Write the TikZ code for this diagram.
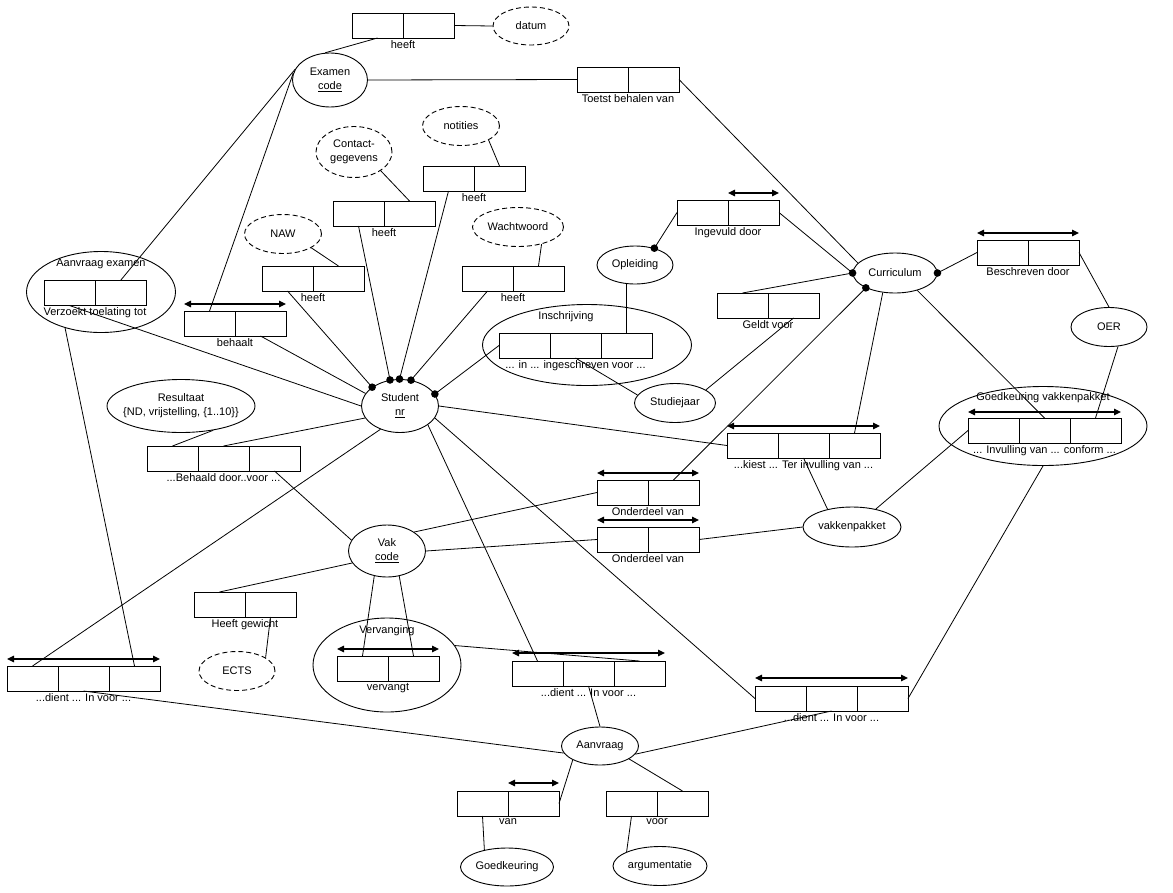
\documentclass[tikz,border=0pt]{standalone}
\usepackage{fontspec}
\setmainfont{Liberation Sans}
\usetikzlibrary{shapes.geometric, arrows.meta, positioning}

\begin{document}
\begin{tikzpicture}[
    x=1pt, y=-1pt,
    font=\fontsize{11}{14}\selectfont,
    cell/.style={rectangle, draw, line width=1pt, minimum width=51pt, minimum height=25pt, inner sep=0pt, outer sep=0pt},
    rlabel/.style={anchor=north, inner sep=2pt},
    ent/.style={ellipse, draw, line width=0.9pt, inner sep=0pt, inner xsep=-6pt, align=center},
    valent/.style={ent, dash pattern=on 5pt off 3pt},
    conn/.style={line width=0.8pt},
    uniq/.style={{Triangle[length=7pt,width=6.5pt]}-{Triangle[length=7pt,width=6.5pt]}, line width=1.2pt},
    mand/.style={fill=black}
]
\useasboundingbox (0,0) rectangle (1173,892);

\node[valent, minimum width=76pt, minimum height=38pt] (datum) at (531,26) {datum};
\node[ent, minimum width=75pt, minimum height=54pt] (exa) at (330,80) {Examen\\\underline{code}};
\node[ent, minimum width=84pt, minimum height=40pt] (curr) at (895,273) {Curriculum};
\node[ent, minimum width=76pt, minimum height=38pt] (opl) at (635,265) {Opleiding};
\node[ent, minimum width=76pt, minimum height=39pt] (oer) at (1109,327) {OER};
\node[ent, minimum width=209pt, minimum height=81pt] (insE) at (587,345) {};
\node (insT) at (566,317) {Inschrijving};
\node[ent, minimum width=81pt, minimum height=39pt] (stj) at (675,403) {Studiejaar};
\node[valent, minimum width=77pt, minimum height=39pt] (naw) at (283,234) {NAW};
\node[valent, minimum width=76pt, minimum height=51pt] (con) at (354,152) {Contact-\\gegevens};
\node[valent, minimum width=77pt, minimum height=39pt] (notit) at (461,126) {notities};
\node[valent, minimum width=91pt, minimum height=39pt] (ww) at (518,227) {Wachtwoord};
\node[ent, minimum width=149pt, minimum height=81pt] (aexE) at (101,292) {};
\node (aexT) at (101,264) {Aanvraag examen};
\node[ent, minimum width=77pt, minimum height=53pt] (stu) at (400,406) {Student\\\underline{nr}};
\node[ent, inner xsep=-12pt, minimum width=148pt, minimum height=53pt] (res) at (181,406) {Resultaat\\\{ND, vrijstelling, \{1..10\}\}};
\node[ent, minimum width=208pt, minimum height=79pt] (gvkE) at (1043,426) {};
\node (gvkT) at (1043,398) {Goedkeuring vakkenpakket};
\node[ent, minimum width=98pt, minimum height=40pt] (vkp) at (852,527) {vakkenpakket};
\node[ent, minimum width=77pt, minimum height=52pt] (vak) at (387,551) {Vak\\\underline{code}};
\node[ent, minimum width=148pt, minimum height=94pt] (vvgE) at (387,665) {};
\node (vvgT) at (387,631) {Vervanging};
\node[valent, minimum width=76pt, minimum height=39pt] (ects) at (237,671) {ECTS};
\node[ent, minimum width=77pt, minimum height=38pt] (aan) at (600,746) {Aanvraag};
\node[ent, minimum width=93pt, minimum height=38pt] (goe) at (507,867) {Goedkeuring};
\node[ent, minimum width=94pt, minimum height=39pt] (arg) at (660,866) {argumentatie};

\node[cell] (dat1) at (377.5,25.5) {};
\node[cell, right=0pt of dat1] (dat2) {};
\node[rlabel] (datL) at (dat1.south east) {heeft};

\node[cell] (toe1) at (602.5,79.5) {};
\node[cell, right=0pt of toe1] (toe2) {};
\node[rlabel] (toeL) at (toe1.south east) {Toetst behalen van};

\node[cell] (ing1) at (702.5,212.5) {};
\node[cell, right=0pt of ing1] (ing2) {};
\node[rlabel] (ingL) at (ing1.south east) {Ingevuld door};

\node[cell] (bes1) at (1002.5,252.5) {};
\node[cell, right=0pt of bes1] (bes2) {};
\node[rlabel] (besL) at (bes1.south east) {Beschreven door};

\node[cell] (gel1) at (742.5,305.5) {};
\node[cell, right=0pt of gel1] (gel2) {};
\node[rlabel] (gelL) at (gel1.south east) {Geldt voor};

\node[cell] (ins1) at (524.5,345.5) {};
\node[cell, right=0pt of ins1] (ins2) {};
\node[cell, right=0pt of ins2] (ins3) {};
\node[rlabel] (insL) at (ins2.south) {... in ... ingeschreven voor ...};

\node[cell] (hn1) at (287.5,278.5) {};
\node[cell, right=0pt of hn1] (hn2) {};
\node[rlabel] (hnL) at (hn1.south east) {heeft};

\node[cell] (hc1) at (358.5,213.5) {};
\node[cell, right=0pt of hc1] (hc2) {};
\node[rlabel] (hcL) at (hc1.south east) {heeft};

\node[cell] (hno1) at (448.5,178.5) {};
\node[cell, right=0pt of hno1] (hno2) {};
\node[rlabel] (hnoL) at (hno1.south east) {heeft};

\node[cell] (hw1) at (487.5,278.5) {};
\node[cell, right=0pt of hw1] (hw2) {};
\node[rlabel] (hwL) at (hw1.south east) {heeft};

\node[cell] (ax1) at (69.5,293) {};
\node[cell, right=0pt of ax1] (ax2) {};
\node[rlabel] (axL) at (ax1.south east) {Verzoekt toelating tot};

\node[cell] (bh1) at (209.5,323.5) {};
\node[cell, right=0pt of bh1] (bh2) {};
\node[rlabel] (bhL) at (bh1.south east) {behaalt};

\node[cell] (bd1) at (172.5,458.5) {};
\node[cell, right=0pt of bd1] (bd2) {};
\node[cell, right=0pt of bd2] (bd3) {};
\node[rlabel] (bdL) at (bd2.south) {...Behaald door..voor ...};

\node[cell] (kie1) at (752.5,445.5) {};
\node[cell, right=0pt of kie1] (kie2) {};
\node[cell, right=0pt of kie2] (kie3) {};
\node[rlabel] (kieL) at (kie2.south) {...kiest ... Ter invulling van ...};

\node[cell] (gk1) at (993.5,430.5) {};
\node[cell, right=0pt of gk1] (gk2) {};
\node[cell, right=0pt of gk2] (gk3) {};
\node[rlabel] (gkL) at (gk2.south) {... Invulling van ... conform ...};

\node[cell] (on11) at (622.5,492.5) {};
\node[cell, right=0pt of on11] (on12) {};
\node[rlabel] (on1L) at (on11.south east) {Onderdeel van};

\node[cell] (on21) at (622.5,539.5) {};
\node[cell, right=0pt of on21] (on22) {};
\node[rlabel] (on2L) at (on21.south east) {Onderdeel van};

\node[cell] (gw1) at (219.5,604.5) {};
\node[cell, right=0pt of gw1] (gw2) {};
\node[rlabel] (gwL) at (gw1.south east) {Heeft gewicht};

\node[cell] (vv1) at (362.5,668.5) {};
\node[cell, right=0pt of vv1] (vv2) {};
\node[rlabel] (vvL) at (vv1.south east) {vervangt};

\node[cell] (dL1) at (32.5,678.5) {};
\node[cell, right=0pt of dL1] (dL2) {};
\node[cell, right=0pt of dL2] (dL3) {};
\node[rlabel] (dLL) at (dL2.south) {...dient ... In voor ...};

\node[cell] (dM1) at (537.5,673.5) {};
\node[cell, right=0pt of dM1] (dM2) {};
\node[cell, right=0pt of dM2] (dM3) {};
\node[rlabel] (dML) at (dM2.south) {...dient ... In voor ...};

\node[cell] (dR1) at (780.5,698.5) {};
\node[cell, right=0pt of dR1] (dR2) {};
\node[cell, right=0pt of dR2] (dR3) {};
\node[rlabel] (dRL) at (dR2.south) {...dient ... In voor ...};

\node[cell] (van1) at (482.5,803.5) {};
\node[cell, right=0pt of van1] (van2) {};
\node[rlabel] (vanL) at (van1.south east) {van};

\node[cell] (voo1) at (631.5,803.5) {};
\node[cell, right=0pt of voo1] (voo2) {};
\node[rlabel] (vooL) at (voo1.south east) {voor};

\draw[uniq] ([yshift=7pt]ing2.north west) -- ([yshift=7pt]ing2.north east);
\draw[uniq] ([yshift=7pt]bes1.north west) -- ([yshift=7pt]bes2.north east);
\draw[uniq] ([yshift=7pt]bh1.north west) -- ([yshift=7pt]bh2.north east);
\draw[uniq] ([yshift=7pt]kie1.north west) -- ([yshift=7pt]kie3.north east);
\draw[uniq] ([yshift=6pt]gk1.north west) -- ([yshift=6pt]gk3.north east);
\draw[uniq] ([yshift=7pt]on11.north west) -- ([yshift=7pt]on12.north east);
\draw[uniq] ([yshift=7pt]on21.north west) -- ([yshift=7pt]on22.north east);
\draw[uniq] ([yshift=7pt]vv1.north west) -- ([yshift=7pt]vv2.north east);
\draw[uniq] ([yshift=7pt]dL1.north west) -- ([yshift=7pt]dL3.north east);
\draw[uniq] ([yshift=8pt]dM1.north west) -- ([yshift=8pt]dM3.north east);
\draw[uniq] ([yshift=8pt]dR1.north west) -- ([yshift=8pt]dR3.north east);
\draw[uniq] ([yshift=8pt]van2.north west) -- ([yshift=8pt]van2.north east);

\draw[conn] (dat2.east) -- (datum.west) (dat1.south) -- (exa.100);
\draw[conn] (exa.east) -- (toe1.west) (toe2.east) -- (curr.165);
\draw[conn] (ing1.west) -- (opl.41) (ing2.east) -- (curr.west) (gel1.north) -- (curr.west);
\draw[conn] (ins3.north) -- (ins3.north |- opl.south);
\draw[conn] (ins1.west) -- (stu.19) (ins2.south) -- (stj.168) (gel2.south) -- (stj.23);
\draw[conn] (curr.207) -- (on12.north) (curr.east) -- (bes1.west);
\draw[conn] (bes2.east) -- (oer.north) (oer.295) -- (gk3.north);
\draw[conn] (curr.322) -- (gk2.north) (gk1.west) -- (vkp.37) (gvkE.south) -- (dR3.east);
\draw[conn] (curr.238) -- (kie3.north) (stu.east) -- (kie1.west) (kie2.south) -- (vkp.144);
\draw[conn] (vak.35) -- (on11.west) (vak.east) -- (on21.west) (on22.east) -- (vkp.west);
\draw[conn] (naw.334) -- (hn2.north) (hn1.south) -- (stu.146);
\draw[conn] (bh2.south) -- (stu.160) (bh1.north) -- (exa.170) (ax2.north) -- (exa.163);
\draw[conn] (con.325) -- (hc2.north) (hc1.south) -- (stu.111);
\draw[conn] (notit.333) -- (hno2.north) (hno1.south) -- (stu.91);
\draw[conn] (ww.324) -- (hw2.north) (hw1.south) -- (stu.67);
\draw[conn] (ax1.south) -- (stu.west) (bd2.north) -- (stu.199);
\draw[conn] (res.323) -- (bd1.north) (bd3.south) -- (vak.163);
\draw[conn] (stu.230) -- (dL1.north) (aexE.225) -- (dL3.north) (dL2.south) -- (aan.191);
\draw[conn] (aan.north) -- (dM2.south) (stu.326) -- (dM1.north) (vvgE.16) -- (dM3.north);
\draw[conn] (stu.341) -- (dR1.west) (dR2.south) -- (aan.347);
\draw[conn] (aan.336) -- (voo2.north) (voo1.south) -- (arg.157);
\draw[conn] (aan.207) -- (van2.east) (van1.south) -- (goe.143);
\draw[conn] (vak.243) -- (vv1.north) (vak.296) -- (vv2.north);
\draw[conn] (vak.199) -- (gw1.north) (gw2.south) -- (ects.25);

\fill[mand] (stu.146) circle[radius=3.8pt] (stu.111) circle[radius=3.8pt]
    (stu.91) circle[radius=3.8pt] (stu.67) circle[radius=3.8pt]
    (stu.19) circle[radius=3.8pt] (opl.41) circle[radius=3.8pt]
    (curr.west) circle[radius=3.8pt] (curr.207) circle[radius=3.8pt]
    (curr.east) circle[radius=3.8pt];
\end{tikzpicture}
\end{document}
